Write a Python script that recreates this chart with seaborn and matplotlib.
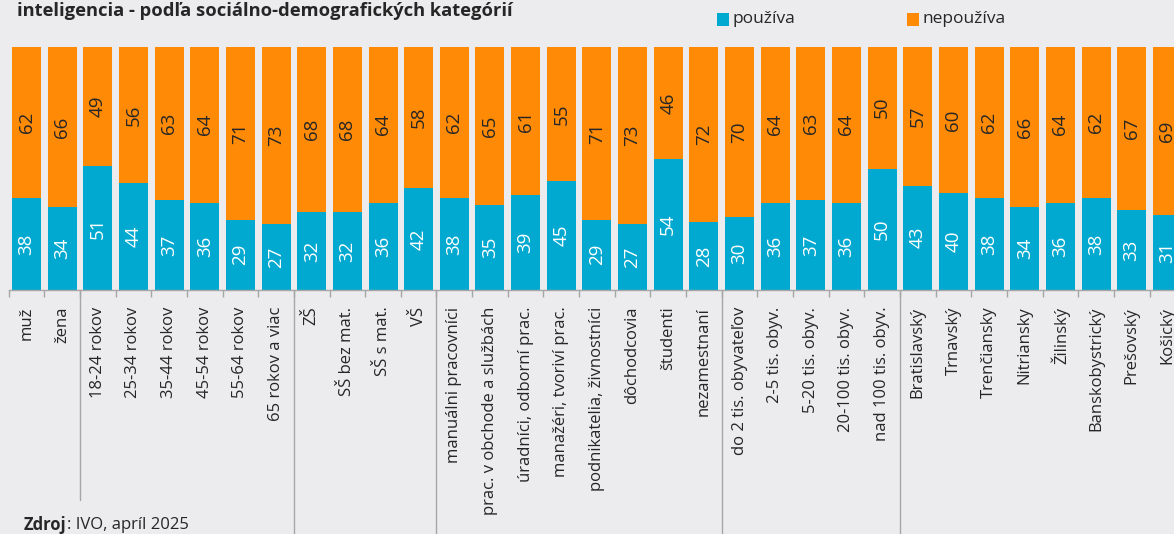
import matplotlib
matplotlib.use("Agg")
import matplotlib.pyplot as plt
from matplotlib.patches import Rectangle
from matplotlib.transforms import blended_transform_factory
import pandas as pd
import seaborn as sns

# Survey: share of respondents who use / do not use AI, by socio-demographic group (%)
categories = [
    "muž", "žena",
    "18-24 rokov", "25-34 rokov", "35-44 rokov", "45-54 rokov", "55-64 rokov", "65 rokov a viac",
    "ZŠ", "SŠ bez mat.", "SŠ s mat.", "VŠ",
    "manuálni pracovníci", "prac. v obchode a službách", "úradníci, odborní prac.",
    "manažéri, tvoriví prac.", "podnikatelia, živnostníci", "dôchodcovia", "študenti", "nezamestnaní",
    "do 2 tis. obyvateľov", "2-5 tis. obyv.", "5-20 tis. obyv.", "20-100 tis. obyv.", "nad 100 tis. obyv.",
    "Bratislavský", "Trnavský", "Trenčiansky", "Nitriansky", "Žilinský", "Banskobystrický",
    "Prešovský", "Košický",
]
pouziva = [38, 34, 51, 44, 37, 36, 29, 27, 32, 32, 36, 42, 38, 35, 39, 45, 29, 27, 54, 28,
           30, 36, 37, 36, 50, 43, 40, 38, 34, 36, 38, 33, 31]
nepouziva = [62, 66, 49, 56, 63, 64, 71, 73, 68, 68, 64, 58, 62, 65, 61, 55, 71, 73, 46, 72,
             70, 64, 63, 64, 50, 57, 60, 62, 66, 64, 62, 67, 69]
group_sizes = [2, 6, 4, 8, 5, 8]

title_text = "inteligencia - podľa sociálno-demografických kategórií"
legend_labels = ["používa", "nepoužíva"]
source_bold = "Zdroj"
source_rest = ": IVO, apríl 2025"

BG = "#ECECEF"
BLUE = "#01A9D0"
ORANGE = "#FF8A05"
TEXT = "#262626"
AXIS = "#A6A6A6"

sns.set_theme(style="white")
plt.rcParams["font.family"] = ["Open Sans", "DejaVu Sans"]

df = pd.DataFrame({"kategoria": categories, "pouziva": pouziva, "nepouziva": nepouziva})
df["spolu"] = df["pouziva"] + df["nepouziva"]

W, H = 1174, 534
fig = plt.figure(figsize=(W / 100, H / 100), dpi=100, facecolor=BG)
n = len(categories)
step = 35.65
ax = fig.add_axes([8.7 / W, 244 / H, n * step / W, 243 / H])
ax.set_facecolor(BG)

bar_w = 0.813
sns.barplot(data=df, x="kategoria", y="spolu", color=ORANGE, saturation=1,
            width=bar_w, ax=ax, linewidth=0)
sns.barplot(data=df, x="kategoria", y="pouziva", color=BLUE, saturation=1,
            width=bar_w, ax=ax, linewidth=0)

for i, (p, q) in enumerate(zip(pouziva, nepouziva)):
    ax.text(i, p / 2, str(p), rotation=90, ha="center", va="center",
            color="white", fontsize=13.5)
    ax.text(i, p + q / 2, str(q), rotation=90, ha="center", va="center",
            color=TEXT, fontsize=13.5)

ax.set_xlim(-0.5, n - 0.5)
ax.set_ylim(0, 100)
ax.set_xlabel("")
ax.set_ylabel("")
ax.set_yticks([])
for side in ("top", "right", "left"):
    ax.spines[side].set_visible(False)
ax.spines["bottom"].set_color(AXIS)
ax.spines["bottom"].set_linewidth(1.0)

ax.set_xticks(range(n))
ax.set_xticklabels(categories, rotation=90, ha="center", va="top",
                   fontsize=12, color=TEXT)
ax.set_xticks([i - 0.5 for i in range(n + 1)], minor=True)
ax.tick_params(axis="x", which="major", length=0, pad=12)
ax.tick_params(axis="x", which="minor", length=5, width=1, color=AXIS, bottom=True)

# group separators below the category axis
trans = blended_transform_factory(ax.transData, fig.transFigure)
edge = 0
for k, size in enumerate(group_sizes[:-1]):
    edge += size
    y_end = 34 / H if k == 0 else 0
    ax.plot([edge - 0.5, edge - 0.5], [244 / H, y_end], transform=trans,
            color=AXIS, lw=1, clip_on=False)

# title line
fig.text(17 / W, 1 - 11 / H, title_text, fontsize=13.2, fontweight="bold",
         color=TEXT, ha="left", va="center")

# legend
for x0, lab, col in [(717, legend_labels[0], BLUE), (907, legend_labels[1], ORANGE)]:
    fig.add_artist(Rectangle((x0 / W, 1 - 26 / H), 11.5 / W, 13 / H,
                             transform=fig.transFigure, facecolor=col, edgecolor="none"))
    fig.text((x0 + 15) / W, 1 - 19 / H, lab, fontsize=12.5, color=TEXT,
             ha="left", va="center")

# source note
t1 = fig.text(24 / W, 1 - 525 / H, source_bold, fontsize=12, fontweight="bold",
              color=TEXT, ha="left", va="center")
ax.annotate(source_rest, xy=(1, 0.5), xycoords=t1, ha="left", va="center",
            fontsize=12, color=TEXT, annotation_clip=False)

fig.savefig("out.png", dpi=100, facecolor=BG)
